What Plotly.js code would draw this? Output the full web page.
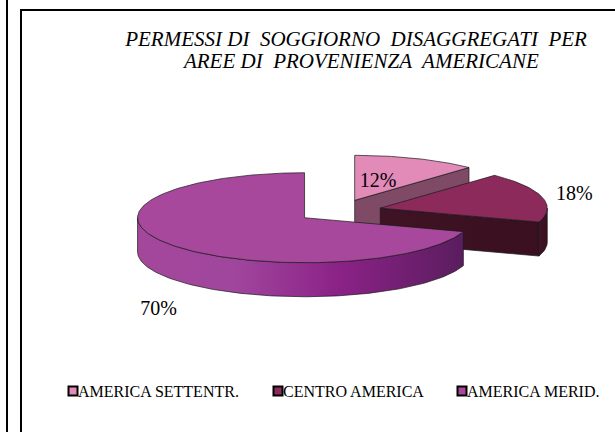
<!DOCTYPE html>
<html>
<head>
<meta charset="utf-8">
<script src="https://cdn.plot.ly/plotly-3.0.1.min.js"></script>
<style>html,body{margin:0;padding:0;background:#fff;}#chart{width:615px;height:432px;}</style>
</head>
<body>
<div id="chart"></div>
<script>
// ---- data ----
const categories = ['AMERICA SETTENTR.', 'CENTRO AMERICA', 'AMERICA MERID.'];
const values = [12, 18, 70];
const titleLines = ['PERMESSI DI\u00A0 SOGGIORNO\u00A0 DISAGGREGATI\u00A0 PER', '\u00A0\u00A0AREE DI\u00A0 PROVENIENZA\u00A0 AMERICANE'];

// ---- style ----
const topColors = ['#E28AB8', '#8C2A5C', '#A8489C'];
const sideScales = [
  [[0, '#7E4A66'], [1, '#7E4A66']],
  [[0, '#3E1324'], [1, '#3A1020']],
  [[0, '#A3479B'], [0.3, '#A0469D'], [0.62, '#8B2287'], [1, '#5A1D5E']]
];
const labelK = [0.38, 1.2, 1.08];
const labelDy = [-2, 0, 64];
const FONT = 'Liberation Serif, serif';
const G = {cx: 339, cy: 211, a: 167, b: 45, depth: 34, explode: 0.255};
const legendX = [73, 278, 462];
const legendY = 391;

const deg = Math.PI / 180;
function rim(t) { return [G.a * Math.sin(t), -G.b * Math.cos(t)]; }

const total = values.reduce((p, c) => p + c, 0);
const traces = [];
const lineStyle = {color: '#1a1a1a', width: 0.7};
const labX = [], labY = [], labT = [];

function poly(xs, ys, fillcolor, scale) {
  const tr = {type: 'scatter', mode: 'lines', x: xs, y: ys, fill: 'toself',
    line: lineStyle, showlegend: false, hoverinfo: 'skip'};
  if (scale) { tr.fillgradient = {type: 'horizontal', colorscale: scale}; tr.fillcolor = scale[0][1]; }
  else tr.fillcolor = fillcolor;
  traces.push(tr);
}
function arc(px, py, t1, t2, dy) {
  const xs = [], ys = [];
  const n = Math.max(2, Math.ceil(Math.abs(t2 - t1) / (1 * deg)));
  for (let k = 0; k <= n; k++) {
    const t = t1 + (t2 - t1) * k / n;
    const r = rim(t);
    xs.push(px + r[0]); ys.push(py + r[1] + dy);
  }
  return [xs, ys];
}

let cum = 0;
values.forEach((v, i) => {
  const s = cum / total * 2 * Math.PI;
  cum += v;
  const e = cum / total * 2 * Math.PI;
  const mid = (s + e) / 2;
  const m = rim(mid);
  const px = G.cx + G.explode * m[0];
  const py = G.cy + G.explode * m[1];
  const D = G.depth;
  if (Math.sin(e) > 1e-6) {
    const r = rim(e);
    poly([px, px + r[0], px + r[0], px, px], [py, py + r[1], py + r[1] + D, py + D, py], null, sideScales[i]);
  }
  if (Math.sin(s) < -1e-6) {
    const r = rim(s);
    poly([px, px + r[0], px + r[0], px, px], [py, py + r[1], py + r[1] + D, py + D, py], null, sideScales[i]);
  }
  const lo = Math.max(s, 90 * deg), hi = Math.min(e, 270 * deg);
  if (hi > lo) {
    const top = arc(px, py, lo, hi, 0);
    const bot = arc(px, py, hi, lo, D);
    const xs = top[0].concat(bot[0]); const ys = top[1].concat(bot[1]);
    xs.push(xs[0]); ys.push(ys[0]);
    poly(xs, ys, null, sideScales[i]);
  }
  const ta = arc(px, py, s, e, 0);
  poly([px].concat(ta[0], [px]), [py].concat(ta[1], [py]), topColors[i]);
  labX.push(px + labelK[i] * m[0]);
  labY.push(py + labelK[i] * m[1] + labelDy[i]);
  labT.push(Math.round(v / total * 100) + '%');
});

traces.push({type: 'scatter', mode: 'text', x: labX, y: labY, text: labT,
  textfont: {family: FONT, size: 20, color: '#000'}, showlegend: false, hoverinfo: 'skip'});

traces.push({type: 'scatter', mode: 'markers', x: legendX, y: legendX.map(() => legendY),
  marker: {symbol: 'square', size: 9, color: topColors, line: {color: '#000', width: 2}},
  showlegend: false, hoverinfo: 'skip'});

const annotations = categories.map((c, i) => ({
  text: c, x: legendX[i] + 4, y: legendY, xref: 'x', yref: 'y', xanchor: 'left', yanchor: 'middle',
  showarrow: false, borderpad: 0, font: {family: FONT, size: 16, color: '#000'}
}));

const layout = {
  width: 615, height: 432,
  margin: {l: 0, r: 0, t: 0, b: 0},
  font: {family: FONT, color: '#000'},
  paper_bgcolor: '#fff', plot_bgcolor: '#fff',
  xaxis: {range: [0, 615], visible: false, fixedrange: true},
  yaxis: {range: [432, 0], visible: false, fixedrange: true},
  title: {text: titleLines.map(l => '<i><span style="font-size:21px">' + l + '</span></i>').join('<br>'),
    x: 0.579, xanchor: 'center', y: 0.893, yanchor: 'top',
    font: {family: FONT, size: 17, style: 'italic', color: '#000'}},
  showlegend: false,
  annotations: annotations,
  shapes: [
    {type: 'line', xref: 'x', yref: 'y', x0: 7, x1: 7, y0: -5, y1: 440, line: {color: '#000', width: 2}},
    {type: 'rect', xref: 'x', yref: 'y', x0: 21, y0: 10, x1: 640, y1: 460, line: {color: '#000', width: 2}}
  ]
};

Plotly.newPlot('chart', traces, layout, {displayModeBar: false, staticPlot: true});
</script>
</body>
</html>
